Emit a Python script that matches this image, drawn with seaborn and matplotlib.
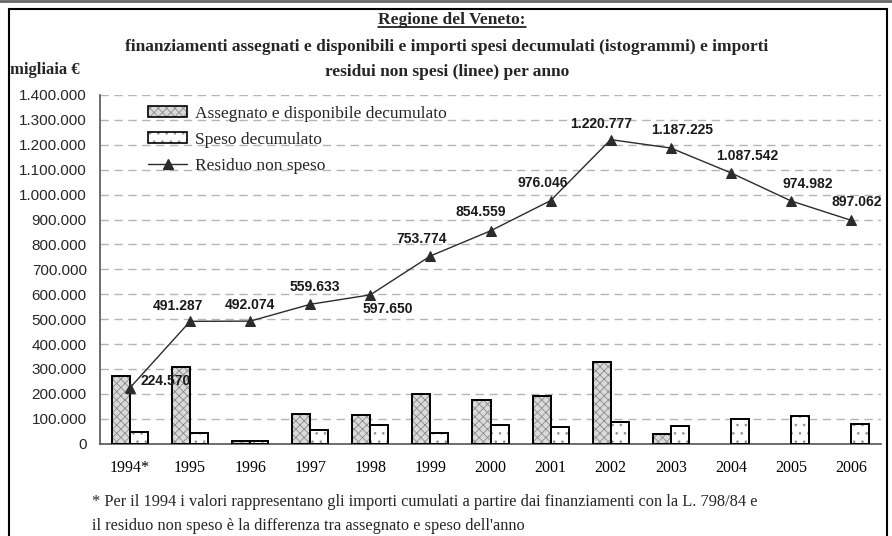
import numpy as np
import pandas as pd
import matplotlib
matplotlib.use("Agg")
import matplotlib.pyplot as plt
import seaborn as sns
from matplotlib.patches import Patch, Rectangle
from matplotlib.lines import Line2D
from matplotlib.legend_handler import HandlerTuple

# ---------------- data ----------------
anni = ['1994*', '1995', '1996', '1997', '1998', '1999', '2000',
        '2001', '2002', '2003', '2004', '2005', '2006']
assegnato = [273000, 309000, 10500, 121000, 115000, 200000, 174000,
             190000, 330000, 38000, np.nan, np.nan, np.nan]
speso = [48400, 42300, 9700, 53500, 77000, 43900, 73200,
         68500, 85300, 71600, 99700, 112600, 77900]
residuo = [224570, 491287, 492074, 559633, 597650, 753774, 854559,
           976046, 1220777, 1187225, 1087542, 974982, 897062]
serie = ['Assegnato e disponibile decumulato', 'Speso decumulato', 'Residuo non speso']
y_ticks = list(range(0, 1400001, 100000))

# label offsets (pixels) relative to markers
lab_off = [(10, 7, 'left'), (-12, 15, 'center'), (0, 16, 'center'), (5, 17, 'center'),
           (17, -14, 'center'), (-9, 17, 'center'), (-10, 19, 'center'), (-8, 18, 'center'),
           (-10, 16, 'center'), (11, 18, 'center'), (16, 17, 'center'), (17, 17, 'center'),
           (6, 18, 'center')]

def fmt(v):
    return f"{int(round(v)):,}".replace(',', '.')

sns.set_theme(style="white")
plt.rcParams['font.family'] = ['Liberation Serif', 'DejaVu Serif']
plt.rcParams['hatch.linewidth'] = 0.6

W, H = 892, 536
fig = plt.figure(figsize=(W / 100, H / 100), dpi=100)
fig.patch.set_facecolor('white')

def fx(x):
    return x / W

def fy(y):
    return 1 - y / H

ax = fig.add_axes([fx(100), fy(443.7), (881 - 100) / W, (443.7 - 95) / H])
ax.set_facecolor('white')

df = pd.DataFrame({
    'anno': anni * 2,
    'serie': [serie[0]] * len(anni) + [serie[1]] * len(anni),
    'valore': assegnato + speso,
})

sns.barplot(data=df, x='anno', y='valore', hue='serie', hue_order=serie[:2],
            order=anni, palette=['#d9d9d9', 'white'], width=0.6, saturation=1,
            legend=False, ax=ax, zorder=2)

styles = [dict(fc='#dadada', hatch='xxxx', hc='#8a8a8a'),
          dict(fc='white', hatch='..', hc='#8f8f8f')]
for cont, st in zip(ax.containers[:2], styles):
    for bar in cont:
        h = bar.get_height()
        if not np.isfinite(h) or h <= 0:
            bar.set_visible(False)
            continue
        bar.set_facecolor(st['fc'])
        bar.set_hatch(st['hatch'])
        bar.set_edgecolor(st['hc'])
        bar.set_linewidth(0)
        ax.add_patch(Rectangle(bar.get_xy(), bar.get_width(), h, fill=False,
                               edgecolor='black', linewidth=1.4, zorder=3))

sns.pointplot(x=anni, y=residuo, order=anni, color='#2b2b2b', markers='^',
              linestyles='-', markersize=7, linewidth=1.0, errorbar=None, ax=ax)
for coll in ax.collections:
    coll.set_zorder(5)
for ln in ax.lines:
    ln.set_zorder(5)

for i, (v, (dx, dy, ha)) in enumerate(zip(residuo, lab_off)):
    ax.annotate(fmt(v), xy=(i, v), xytext=(dx, dy), textcoords='offset pixels',
                ha=ha, va='center', fontsize=10, fontweight='bold',
                family='Liberation Sans', color='#1a1a1a', zorder=6)

ax.set_xlim(-0.5, 12.5)
ax.set_ylim(0, 1400000)
ax.set_yticks(y_ticks)
ax.set_yticklabels([fmt(v) for v in y_ticks], family='Liberation Sans', fontsize=11)
ax.set_xticks(range(len(anni)))
ax.set_xticklabels(anni, fontsize=11.5)
ax.set_xticks(np.arange(0.5, len(anni), 1.0), minor=True)
ax.tick_params(axis='x', which='major', length=0, pad=12, colors='black')
ax.tick_params(axis='x', which='minor', length=11, direction='inout', width=1, color='#444')
ax.tick_params(axis='y', which='major', length=8, direction='inout', width=1, color='#444', pad=5.5)
ax.set_xlabel('')
ax.set_ylabel('')

ax.yaxis.grid(True, color='#b5b5b5', linestyle=(0, (6, 4)), linewidth=1)
ax.xaxis.grid(False)
ax.set_axisbelow(True)
for s in ['top', 'right']:
    ax.spines[s].set_visible(False)
for s in ['left', 'bottom']:
    ax.spines[s].set_color('#555555')
    ax.spines[s].set_linewidth(1.2)

# legend
h_ass = (Patch(facecolor='#dadada', hatch='xxxx', edgecolor='#8a8a8a', linewidth=0),
         Patch(fill=False, edgecolor='black', linewidth=1.2))
h_spe = (Patch(facecolor='white', hatch='..', edgecolor='#8f8f8f', linewidth=0),
         Patch(fill=False, edgecolor='black', linewidth=1.2))
h_res = Line2D([], [], color='#2b2b2b', marker='^', markersize=7, linewidth=1.0)
ax.legend([h_ass, h_spe, h_res], serie,
          handler_map={tuple: HandlerTuple(ndivide=1, pad=0)},
          loc='upper left', bbox_to_anchor=(fx(148), fy(106)), bbox_transform=fig.transFigure,
          frameon=False, fontsize=12.5, handlelength=2.25, handleheight=0.6,
          handletextpad=0.45, labelspacing=0.58, borderpad=0, borderaxespad=0)

# titles
t1 = fig.text(fx(452), fy(20), 'Regione del Veneto:', ha='center', va='center',
              fontsize=12.5, fontweight='bold')
fig.text(fx(447), fy(47), 'finanziamenti assegnati e disponibili e importi spesi decumulati '
         '(istogrammi) e importi', ha='center', va='center', fontsize=12.5, fontweight='bold')
fig.text(fx(447), fy(72), 'residui non spesi (linee) per anno', ha='center', va='center',
         fontsize=12.5, fontweight='bold')
fig.text(fx(10), fy(70), 'migliaia €', ha='left', va='center', fontsize=12, fontweight='bold')

fig.text(fx(92), fy(502), '* Per il 1994 i valori rappresentano gli importi cumulati a partire '
         'dai finanziamenti con la L. 798/84 e', ha='left', va='center', fontsize=11.8)
fig.text(fx(92), fy(526), "il residuo non speso è la differenza tra assegnato e speso dell'anno",
         ha='left', va='center', fontsize=11.8)

# frame
fig.patches.append(Rectangle((fx(9), fy(545)), (887 - 9) / W, (545 - 9) / H, fill=False,
                             edgecolor='black', linewidth=1.5, transform=fig.transFigure))
fig.lines.append(Line2D([0, 1], [fy(1), fy(1)], color='#666666', linewidth=2,
                        transform=fig.transFigure))

# underline title
fig.canvas.draw()
bb = t1.get_window_extent()
fig.lines.append(Line2D([bb.x0 / W, bb.x1 / W], [(bb.y0 + 1) / H, (bb.y0 + 1) / H],
                        color='black', linewidth=1.1, transform=fig.transFigure))

fig.savefig('out.png', dpi=100)
